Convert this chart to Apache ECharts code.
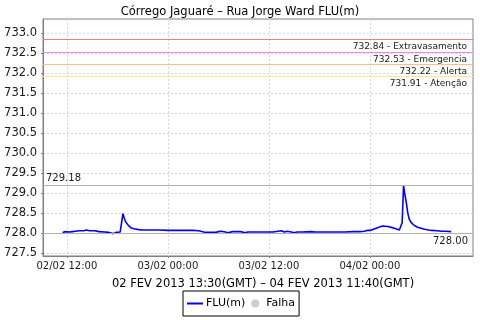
<!DOCTYPE html>
<html>
<head>
<meta charset="utf-8">
<script src="https://cdn.jsdelivr.net/npm/echarts@6/dist/echarts.min.js"></script>
<style>
html,body{margin:0;padding:0;background:#fff;}
#chart{width:480px;height:320px;}
</style>
</head>
<body>
<div id="chart"></div>
<script>
var titleText = 'Córrego Jaguaré – Rua Jorge Ward FLU(m)';
var subtitleText = '02 FEV 2013 13:30(GMT) – 04 FEV 2013 11:40(GMT)';
var seriesName = 'FLU(m)';
var failName = 'Falha';

var times = [
 '2013-02-02 11:30','2013-02-02 11:50','2013-02-02 12:00','2013-02-02 12:20','2013-02-02 12:40','2013-02-02 12:50',
 '2013-02-02 13:00','2013-02-02 13:30','2013-02-02 14:00','2013-02-02 14:20','2013-02-02 14:40','2013-02-02 15:20',
 '2013-02-02 15:50','2013-02-02 16:30','2013-02-02 17:00','2013-02-02 17:10','2013-02-02 17:30','2013-02-02 17:50',
 '2013-02-02 18:20','2013-02-02 18:30','2013-02-02 18:40','2013-02-02 18:50','2013-02-02 19:00','2013-02-02 19:20',
 '2013-02-02 19:40','2013-02-02 20:00','2013-02-02 20:30','2013-02-02 21:00','2013-02-02 22:00','2013-02-02 23:00',
 '2013-02-03 00:00','2013-02-03 01:00','2013-02-03 02:00','2013-02-03 03:00','2013-02-03 03:40','2013-02-03 03:50',
 '2013-02-03 04:30','2013-02-03 05:10','2013-02-03 05:40','2013-02-03 05:50','2013-02-03 06:00','2013-02-03 06:20',
 '2013-02-03 06:50','2013-02-03 07:10','2013-02-03 07:40','2013-02-03 08:00','2013-02-03 08:40','2013-02-03 09:10',
 '2013-02-03 09:30','2013-02-03 10:30','2013-02-03 11:30','2013-02-03 12:30','2013-02-03 13:30','2013-02-03 13:50',
 '2013-02-03 14:10','2013-02-03 14:40','2013-02-03 15:00','2013-02-03 15:20','2013-02-03 16:00','2013-02-03 17:00',
 '2013-02-03 17:10','2013-02-03 17:30','2013-02-03 18:30','2013-02-03 18:40','2013-02-03 18:50','2013-02-03 20:00',
 '2013-02-03 21:00','2013-02-03 22:00','2013-02-03 22:50','2013-02-03 23:00','2013-02-03 23:20','2013-02-03 23:40',
 '2013-02-04 00:00','2013-02-04 00:20','2013-02-04 00:50','2013-02-04 01:30','2013-02-04 02:10','2013-02-04 02:40',
 '2013-02-04 03:00','2013-02-04 03:30','2013-02-04 03:50','2013-02-04 04:00','2013-02-04 04:10','2013-02-04 04:20',
 '2013-02-04 04:30','2013-02-04 04:40','2013-02-04 04:50','2013-02-04 05:10','2013-02-04 05:40','2013-02-04 06:10',
 '2013-02-04 06:30','2013-02-04 07:00','2013-02-04 07:20','2013-02-04 08:00','2013-02-04 08:30','2013-02-04 09:00',
 '2013-02-04 09:40'
];
var levels = [
 728.01,728.03,728.04,728.02,728.03,728.00,
 728.04,728.05,728.05,728.07,728.05,728.05,
 728.03,728.02,728.01,727.97,727.98,728.01,
 728.02,728.05,728.48,728.36,728.27,728.18,
 728.12,728.10,728.08,728.07,728.07,728.07,
 728.06,728.06,728.06,728.06,728.05,728.01,
 728.01,728.01,728.01,728.04,728.03,728.04,
 728.02,728.00,728.03,728.03,728.03,728.00,
 728.02,728.02,728.02,728.02,728.05,728.02,
 728.04,728.02,728.00,728.02,728.02,728.03,
 728.04,728.02,728.02,727.99,728.02,728.02,
 728.02,728.03,728.03,728.05,728.04,728.06,
 728.06,728.08,728.12,728.17,728.16,728.13,
 728.11,728.07,728.25,729.18,728.95,728.75,
 728.50,728.35,728.28,728.20,728.14,728.11,
 728.09,728.07,728.06,728.05,728.04,728.04,
 728.03
];

var thresholdValues = [732.84, 732.53, 732.22, 731.91];
var thresholdNames = ['Extravasamento', 'Emergencia', 'Alerta', 'Atenção'];
var thresholdColors = ['#f08080', '#ff80ff', '#ffc080', '#ffe690'];
var maxValue = 729.18;
var minValue = 728.00;

var yTicks = [727.5, 728.0, 728.5, 729.0, 729.5, 730.0, 730.5, 731.0, 731.5, 732.0, 732.5, 733.0];
var xTickTimes = ['2013-02-02 12:00', '2013-02-03 00:00', '2013-02-03 12:00', '2013-02-04 00:00'];
var xRange = ['2013-02-02 09:10', '2013-02-04 12:15'];
var yRange = [727.42, 733.35];

function toMs(s) {
  var p = s.split(/[- :]/).map(Number);
  return Date.UTC(p[0], p[1] - 1, p[2], p[3], p[4]);
}
function pad(n) { return (n < 10 ? '0' : '') + n; }
function fmtTime(v) {
  var d = new Date(v);
  return pad(d.getUTCDate()) + '/' + pad(d.getUTCMonth() + 1) + ' ' + pad(d.getUTCHours()) + ':' + pad(d.getUTCMinutes());
}

var data = times.map(function (t, i) { return [toMs(t), levels[i]]; });
var xTicks = xTickTimes.map(toMs);

var FONT = 'DejaVu Sans';
var TXT = '#1a1a1a';

var markData = thresholdValues.map(function (v, i) {
  return {
    yAxis: v,
    lineStyle: { color: thresholdColors[i], type: 'solid', width: 1 },
    label: {
      show: true, position: 'insideEndBottom', distance: [6, 3],
      formatter: v.toFixed(2) + ' - ' + thresholdNames[i],
      color: TXT, fontSize: 9, fontFamily: FONT
    }
  };
});
markData.push({
  yAxis: maxValue,
  lineStyle: { color: '#b0b0b0', type: 'solid', width: 1 },
  label: { show: true, position: 'insideStartTop', distance: [3, 2],
    formatter: maxValue.toFixed(2), color: TXT, fontSize: 10, fontFamily: FONT }
});
markData.push({
  yAxis: minValue,
  lineStyle: { color: '#b0b0b0', type: 'solid', width: 1 },
  label: { show: true, position: 'insideEndBottom', distance: [5, 4],
    formatter: minValue.toFixed(2), color: TXT, fontSize: 10, fontFamily: FONT }
});

var chart = echarts.init(document.getElementById('chart'), null, { renderer: 'canvas' });
chart.setOption({
  animation: false,
  backgroundColor: '#fff',
  title: [{
    text: titleText, left: 'center', top: 1,
    textStyle: { fontSize: 11.5, fontWeight: 'normal', color: '#000', fontFamily: FONT }
  }, {
    text: subtitleText, left: 258, textAlign: 'center', top: 273,
    textStyle: { fontSize: 11.5, fontWeight: 'normal', color: '#000', fontFamily: FONT }
  }],
  legend: {
    left: 183, top: 291,
    symbolKeepAspect: true,
    data: [
      { name: seriesName, icon: 'path://M0,0 L16,0 L16,2 L0,2 Z', symbolKeepAspect: true },
      { name: failName, icon: 'circle', symbolKeepAspect: true }
    ],
    itemWidth: 16, itemHeight: 8, itemGap: 6,
    padding: [7, 4, 7, 4],
    borderColor: '#000', borderWidth: 1,
    textStyle: { fontSize: 11, color: '#000', fontFamily: FONT, padding: [0, 0, 0, -2] }
  },
  grid: {
    left: 43, right: 7, top: 19, bottom: 64,
    show: true, borderColor: '#808080', borderWidth: 1, backgroundColor: '#fff'
  },
  xAxis: {
    type: 'value',
    min: toMs(xRange[0]), max: toMs(xRange[1]),
    axisLine: { show: true, lineStyle: { color: '#808080' } },
    axisTick: { show: true, length: 2, customValues: xTicks, lineStyle: { color: '#808080' } },
    axisLabel: { customValues: xTicks, formatter: fmtTime, margin: 5, fontSize: 10, color: TXT, fontFamily: FONT },
    splitLine: { show: true, lineStyle: { color: '#d8d8d8', type: [2, 2] } }
  },
  yAxis: {
    type: 'value',
    min: yRange[0], max: yRange[1],
    axisLine: { show: true, lineStyle: { color: '#808080' } },
    axisTick: { show: true, length: 2, customValues: yTicks, lineStyle: { color: '#808080' } },
    axisLabel: { customValues: yTicks, formatter: function (v) { return v.toFixed(1); }, margin: 6, fontSize: 11.5, color: TXT, fontFamily: FONT },
    splitLine: { show: true, lineStyle: { color: '#d8d8d8', type: [2, 2] } }
  },
  series: [{
    name: seriesName, type: 'line', data: data,
    symbol: 'none', color: '#0000ff',
    lineStyle: { color: '#0000ff', width: 1.6 },
    markLine: { silent: true, symbol: 'none', animation: false, data: markData }
  }, {
    name: failName, type: 'scatter', data: [], color: '#c0c0c0', symbolSize: 8
  }]
});
</script>
</body>
</html>
